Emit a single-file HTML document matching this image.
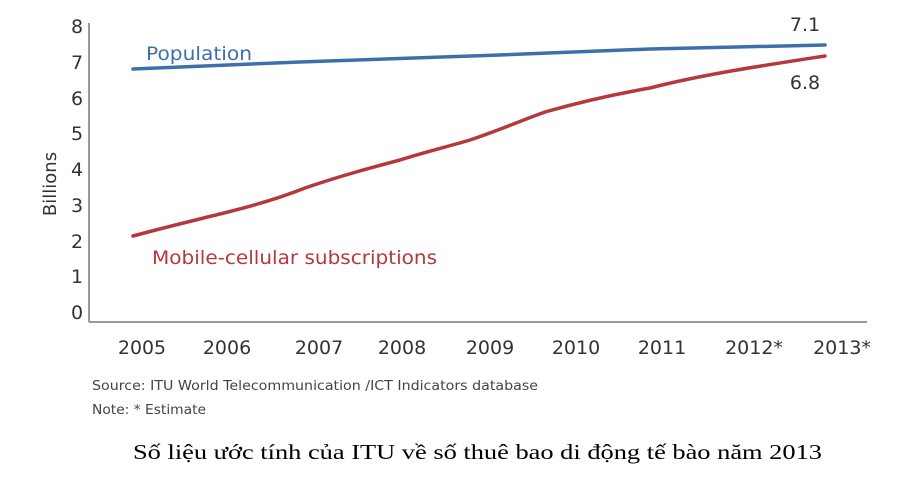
<!DOCTYPE html>
<html><head><meta charset="utf-8"><style>
body{margin:0;background:#fff;width:900px;height:481px;overflow:hidden}
</style></head><body>
<svg width="900" height="481" xmlns="http://www.w3.org/2000/svg" style="position:absolute;left:0;top:0">
<g font-family="DejaVu Sans, Liberation Sans, sans-serif" fill="#333" font-size="19">
<line x1="89" y1="23" x2="89" y2="322" stroke="#999" stroke-width="2"/>
<line x1="89" y1="322" x2="867" y2="322" stroke="#999" stroke-width="2"/>
<g text-anchor="middle">
<text x="77" y="33">8</text><text x="77" y="69">7</text><text x="77" y="105">6</text>
<text x="77" y="140">5</text><text x="77" y="176">4</text><text x="77" y="212">3</text>
<text x="77" y="248">2</text><text x="77" y="283">1</text><text x="77" y="319">0</text>
<text x="142" y="354" textLength="48" lengthAdjust="spacingAndGlyphs">2005</text><text x="227" y="354">2006</text><text x="319" y="354">2007</text>
<text x="402" y="354">2008</text><text x="490" y="354">2009</text><text x="576" y="354">2010</text>
<text x="662" y="354">2011</text><text x="754" y="354">2012*</text><text x="842" y="354">2013*</text>
<text x="805" y="31">7.1</text><text x="805" y="89">6.8</text>
</g>
<text transform="translate(56,184) rotate(-90)" text-anchor="middle" font-size="18">Billions</text>
<path d="M133,69 L300,62 L500,55 L650,49 L825,45" fill="none" stroke="#3f6fab" stroke-width="3.5" stroke-linecap="round"/>
<path d="M133,236 C170,226 200,219 228,212 C260,204 285,196 305,188 C340,176 370,168 400,160 C425,152 450,146 470,140 C500,130 520,121 545,112 C580,102 610,95 650,88 C700,75 760,66 825,56" fill="none" stroke="#b5383e" stroke-width="3.5" stroke-linecap="round"/>
<text x="146" y="60" fill="#3f6fab" font-size="19" textLength="106" lengthAdjust="spacingAndGlyphs">Population</text>
<text x="152" y="264" fill="#b5383e" font-size="19" textLength="285" lengthAdjust="spacingAndGlyphs">Mobile-cellular subscriptions</text>
<text x="92" y="390" font-size="13" fill="#444" textLength="446" lengthAdjust="spacingAndGlyphs">Source:  ITU World Telecommunication /ICT Indicators database</text>
<text x="92" y="414" font-size="13" fill="#444" textLength="114" lengthAdjust="spacingAndGlyphs">Note: * Estimate</text>
<text x="133" y="459" font-family="Liberation Serif, serif" font-size="21" fill="#000" textLength="689" lengthAdjust="spacingAndGlyphs">Số liệu ước tính của ITU về số thuê bao di động tế bào năm 2013</text>
</g>
</svg>
</body></html>
